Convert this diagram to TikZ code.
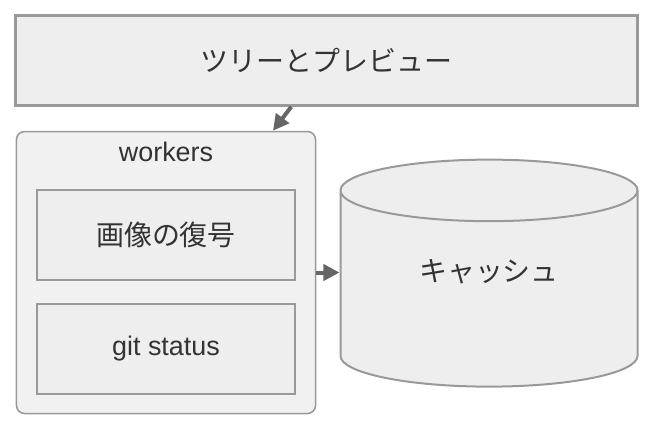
\documentclass[tikz,border=0pt]{standalone}
\usepackage{fontspec}
\setmainfont{Liberation Sans}
\newfontfamily\jpfont{Noto Sans CJK JP}[Scale=1.04]
\usetikzlibrary{shapes.geometric,arrows.meta}

\definecolor{boxfill}{HTML}{EEEEEE}
\definecolor{boxline}{HTML}{999999}
\definecolor{arrowgray}{HTML}{666666}
\definecolor{textgray}{HTML}{333333}

\begin{document}
\begin{tikzpicture}[x=1bp,y=-1bp,
  font=\fontsize{27}{31}\selectfont,text=textgray,
  stepbox/.style={rectangle,draw=boxline,fill=boxfill,line width=2.5bp,inner sep=0pt,minimum width=258bp,minimum height=90bp},
  cluster/.style={rectangle,rounded corners=8bp,draw=boxline,fill=boxfill!85!white,line width=1.5bp,inner sep=0pt,minimum width=299bp,minimum height=282bp},
  store/.style={cylinder,shape border rotate=90,aspect=0.44,draw=boxline,fill=boxfill,line width=2bp,inner sep=0pt,minimum width=297bp,minimum height=227bp},
  flow/.style={draw=arrowgray,line width=4bp,-{Triangle[length=16bp,width=16bp]}}]
  \useasboundingbox (0,0) rectangle (656,432);
  \path
  (326.5,60.5) node[stepbox,minimum width=622bp] (tree) {\jpfont ツリーとプレビュー}
  (166,272.5) node[cluster] (workers) {}
  (166,152) node (wlabel) {workers}
  (166,235) node[stepbox] (decode) {\jpfont 画像の復号}
  (166,349) node[stepbox] (git) {git status}
  (489,289) node[store] (cache) {\jpfont\phantom{キャッシュ}}
  (489,272) node (cachetext) {\jpfont キャッシュ};
  \draw[flow] (tree) -- (workers);
  \draw[flow] (workers.east) -- (cache.west |- workers.east);
\end{tikzpicture}
\end{document}
